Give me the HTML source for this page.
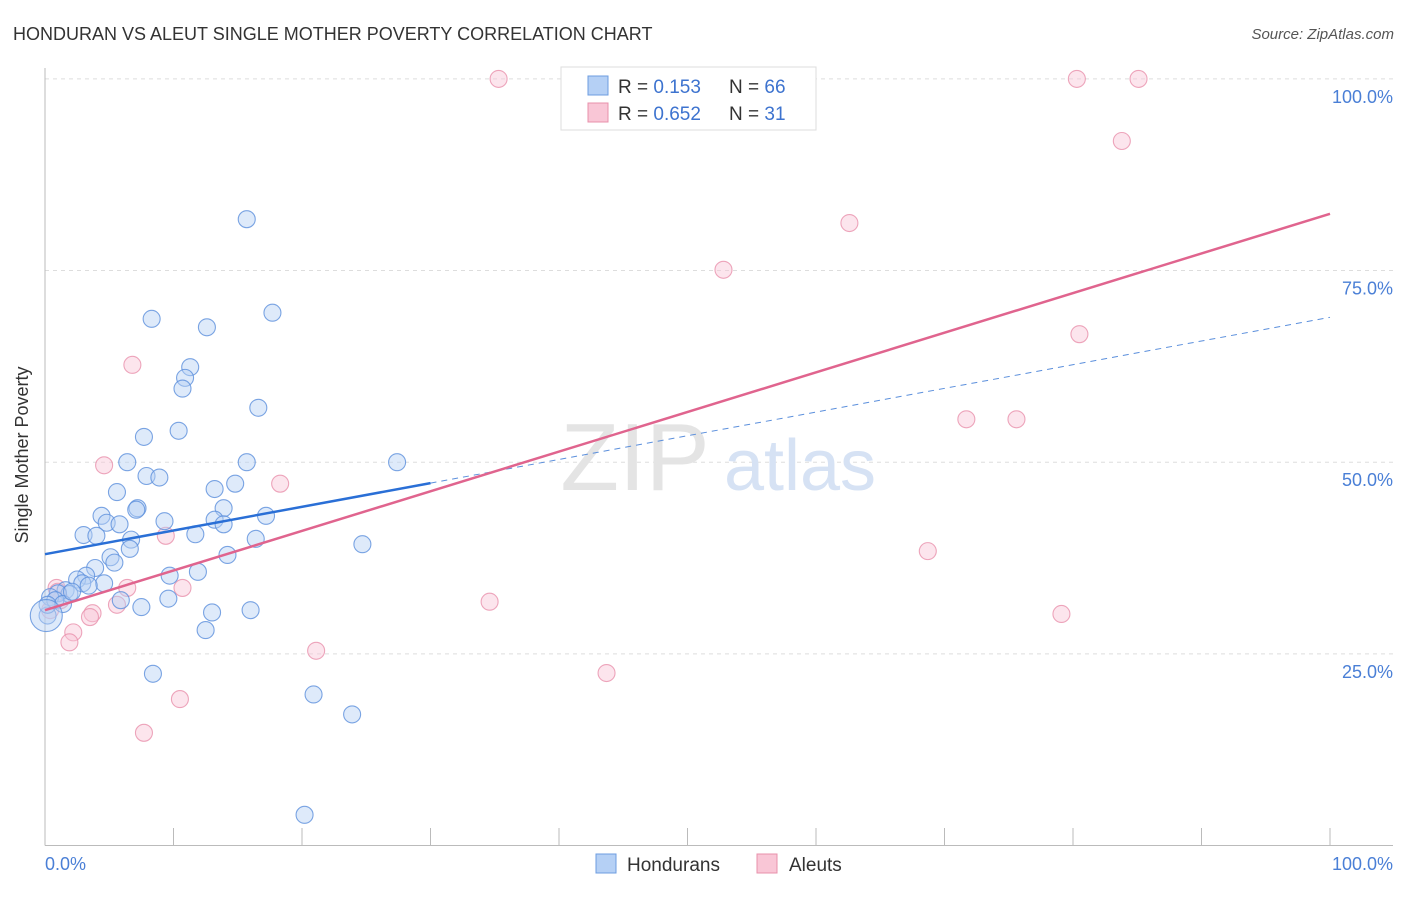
<!DOCTYPE html>
<html><head><meta charset="utf-8"><style>
body{margin:0;background:#fff;font-family:"Liberation Sans",sans-serif;}
svg text{font-family:"Liberation Sans",sans-serif;}
</style></head><body>
<svg width="1406" height="892" xmlns="http://www.w3.org/2000/svg">
<text x="13" y="40" font-size="18" fill="#333">HONDURAN VS ALEUT SINGLE MOTHER POVERTY CORRELATION CHART</text>
<text x="1394" y="39" font-size="15" fill="#555" font-style="italic" text-anchor="end">Source: ZipAtlas.com</text>
<g id="grid"></g>
<g>
<text x="635" y="490" font-size="96" fill="#e4e4e4" font-family="Liberation Serif" text-anchor="middle">ZIP</text>
<text x="800" y="490" font-size="72" fill="#d6e2f4" text-anchor="middle">atlas</text></g>
<g id="pts"></g>
<g id="lines"></g>
<text x="28" y="455" font-size="18" fill="#333" text-anchor="middle" transform="rotate(-90 28 455)">Single Mother Poverty</text>
<text x="45" y="870" font-size="18" fill="#4a7fd6">0.0%</text>
<text x="1393" y="870" font-size="18" fill="#4a7fd6" text-anchor="end">100.0%</text>
<g>
<rect x="561" y="67" width="255" height="63" fill="#fff" stroke="#ddd"/>
<rect x="588" y="76" width="20" height="19" fill="#b5d0f5" stroke="#6d9de0"/>
<rect x="588" y="103" width="20" height="19" fill="#f9c6d6" stroke="#e890ab"/>
<text x="618" y="93" font-size="19" fill="#333">R = <tspan fill="#3d73cf">0.153</tspan></text>
<text x="729" y="93" font-size="19" fill="#333">N = <tspan fill="#3d73cf">66</tspan></text>
<text x="618" y="120" font-size="19" fill="#333">R = <tspan fill="#3d73cf">0.652</tspan></text>
<text x="729" y="120" font-size="19" fill="#333">N = <tspan fill="#3d73cf"> 31</tspan></text>
</g>
<g>
<rect x="596" y="854" width="20" height="19" fill="#b5d0f5" stroke="#6d9de0"/>
<text x="627" y="871" font-size="19" fill="#333">Hondurans</text>
<rect x="757" y="854" width="20" height="19" fill="#f9c6d6" stroke="#e890ab"/>
<text x="789" y="871" font-size="19" fill="#333">Aleuts</text>
</g>
</svg>
<script>
const blueX=[15.7,8.3,12.6,17.7,11.3,10.9,10.7,16.6,10.4,7.7,6.4,15.7,27.4,7.9,8.9,13.2,14.8,5.6,7.2,7.1,4.4,13.9,4.8,5.8,9.3,17.2,13.2,13.9,3.0,4.0,11.7,16.4,24.7,6.7,6.6,5.1,5.4,3.9,3.2,2.5,2.9,4.6,3.4,9.7,11.9,14.2,1.6,1.9,1.0,0.4,0.8,1.4,5.9,9.6,7.5,13.0,16.0,12.5,0.2,8.4,20.9,23.9,20.2,2.1,0.2,0.1];
const blueY=[81.7,68.7,67.6,69.5,62.4,61.0,59.6,57.1,54.1,53.3,50.0,50.0,50.0,48.2,48.0,46.5,47.2,46.1,44.0,43.8,43.0,44.0,42.1,41.9,42.3,43.0,42.5,41.9,40.5,40.4,40.6,40.0,39.3,39.9,38.7,37.6,36.9,36.2,35.2,34.7,34.2,34.2,33.9,35.2,35.7,37.9,33.3,32.8,32.9,32.4,32.0,31.5,32.0,32.2,31.1,30.4,30.7,28.1,30.0,22.4,19.7,17.1,4.0,33.1,31.4,30.0];
const pinkX=[35.3,80.3,85.1,83.8,62.6,52.8,80.5,6.8,71.7,75.6,4.6,18.3,9.4,68.7,0.9,6.4,10.7,34.6,3.7,5.6,3.5,79.1,2.2,1.9,21.1,43.7,10.5,7.7,0.4,1.2,1.0];
const pinkY=[100,100,100,91.9,81.2,75.1,66.7,62.7,55.6,55.6,49.6,47.2,40.4,38.4,33.6,33.6,33.6,31.8,30.3,31.4,29.8,30.2,27.8,26.5,25.4,22.5,19.1,14.7,30.7,32.0,33.1];
const blueLine=[38.0,68.9];const blueSolidEnd=30;
const pinkLine=[30.7,82.4];
const yTicks=[25,50,75,100];const yTickLabels=["25.0%","50.0%","75.0%","100.0%"];
const xTicks=[0,10,20,30,40,50,60,70,80,90,100];
const sx=v=>45+v*12.85, sy=v=>845.5-v*7.666;
const NS="http://www.w3.org/2000/svg";
function mk(t,a,p){const e=document.createElementNS(NS,t);for(const k in a)e.setAttribute(k,a[k]);p.appendChild(e);return e;}
const svg=document.querySelector('svg'),grid=document.getElementById('grid'),pts=document.getElementById('pts'),lines=document.getElementById('lines');
yTicks.forEach((t,i)=>{const l=mk('line',{x1:45,x2:1393,y1:sy(t),y2:sy(t),stroke:'#ddd','stroke-dasharray':'4,4'},grid);


const tx=mk('text',{x:1393,y:sy(t)+24,'font-size':18,fill:'#4a7fd6','text-anchor':'end'},grid);tx.textContent=yTickLabels[i];

});
const ax=mk('line',{x1:45,x2:1393,y1:845.5,y2:845.5,stroke:'#bbb'},grid);


const ay=mk('line',{x1:45,x2:45,y1:68,y2:845.5,stroke:'#bbb'},grid);


xTicks.forEach(t=>{const l=mk('line',{x1:sx(t),x2:sx(t),y1:828,y2:845.5,stroke:'#bbb'},grid);

});
function dots(X,Y,fill,stroke,name){X.forEach((x,i)=>{const big=(name==='honduran-point'&&i===X.length-1);
const c=mk('circle',{cx:sx(x),cy:sy(Y[i]),r:big?16:8.5,fill:fill,'fill-opacity':0.45,stroke:stroke,'stroke-width':1.1,'stroke-opacity':0.8},pts);

});}
dots(pinkX,pinkY,'#f9c6d6','#e890ab','aleut-point');
dots(blueX,blueY,'#b5d0f5','#5b8fdc','honduran-point');
const by=x=>blueLine[0]+(blueLine[1]-blueLine[0])*x/100;
const b1=mk('line',{x1:sx(0),y1:sy(by(0)),x2:sx(blueSolidEnd),y2:sy(by(blueSolidEnd)),stroke:'#2a6fd6','stroke-width':2.5},lines);


const b2=mk('line',{x1:sx(blueSolidEnd),y1:sy(by(blueSolidEnd)),x2:sx(100),y2:sy(by(100)),stroke:'#5b8fdc','stroke-width':1,'stroke-dasharray':'6,5'},lines);


const p1=mk('line',{x1:sx(0),y1:sy(pinkLine[0]),x2:sx(100),y2:sy(pinkLine[1]),stroke:'#e0648e','stroke-width':2.5},lines);


</script>
</body></html>
